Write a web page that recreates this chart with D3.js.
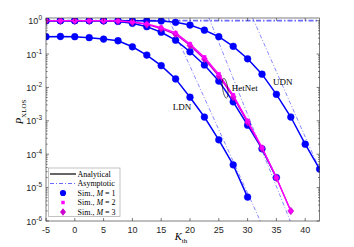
<!DOCTYPE html>
<html><head><meta charset="utf-8">
<script src="https://cdn.jsdelivr.net/npm/d3@7"></script>
<style>body{margin:0;background:#fff}svg{display:block}</style>
</head><body>
<svg width="354" height="247"></svg>
<script>
// threshold values (dB)
const kth = [-5, -2.5, 0, 2.5, 5, 7.5, 10, 12.5, 15, 17.5, 20, 22.5, 25, 27.5, 30, 32.5, 35, 37.5, 40, 42.5];

// simulated / analytical P_XLOS
const ldn   = [0.33, 0.335, 0.33, 0.31, 0.28, 0.25, 0.165, 0.093, 0.045, 0.018, 5.1e-3, 1.3e-3, 2.7e-4, 4.8e-5, 5.2e-6];
const hetM1 = [0.995, 0.995, 0.995, 0.995, 0.985, 0.95, 0.83, 0.66, 0.45, 0.26, 0.117, 0.047, 0.0155, 3.7e-3, 7.4e-4, 1.45e-4, 2.0e-5];
const hetM2 = [0.998, 0.998, 0.998, 0.998, 0.998, 0.98, 0.92, 0.8, 0.62, 0.43, 0.2, 0.08, 0.025, 5.9e-3, 1.0e-3, 1.6e-4, 2.0e-5, 2.0e-6];
const hetM3 = [0.997, 0.997, 0.997, 0.997, 0.996, 0.97, 0.9, 0.77, 0.58, 0.39, 0.18, 0.071, 0.022, 5.2e-3, 9.0e-4, 1.5e-4, 1.95e-5, 2.0e-6];
const udn   = [0.999, 0.999, 0.999, 0.999, 0.999, 0.999, 0.999, 0.995, 0.98, 0.89, 0.74, 0.52, 0.33, 0.17, 0.072, 0.025, 6.2e-3, 1.3e-3, 2.0e-4, 3.6e-5];

// asymptotes as [K, P] end points
const asymFlat = [[-5, 1], [42.5, 1]];
const asymLDN  = [[16.2, 1.2], [32.2, 1e-6]];
const asymHet  = [[23.3, 1.2], [37.4, 1e-6]];
const asymUDN  = [[30.9, 1.18], [42.5, 3.5e-5]];

const xTicks = [-5, 0, 5, 10, 15, 20, 25, 30, 35, 40];
const yExps = [0, -1, -2, -3, -4, -5, -6];

const blue = "#0000ff", mag = "#ff00ff", purp = "#cc00cc", asymCol = "#6a6aff";
const axCol = "#262626";

const svg = d3.select("svg");
const L = 46, R = 319.6, T = 18, B = 221;

const x = d3.scaleLinear().domain([-5, 42.5]).range([L, R]);
const y = d3.scaleLog().domain([1e-6, 1.2]).range([B, T]);

svg.append("defs").append("clipPath").attr("id", "clip")
  .append("rect").attr("x", L).attr("y", T).attr("width", R - L).attr("height", B - T);

const plot = svg.append("g").attr("clip-path", "url(#clip)");

// asymptotic lines
const aline = d3.line().x(d => x(d[0])).y(d => y(d[1]));
[asymLDN, asymHet, asymUDN].forEach(a => {
  plot.append("path").attr("d", aline(a)).attr("fill", "none")
    .attr("stroke", asymCol).attr("stroke-width", 0.8)
    .attr("stroke-dasharray", "4,2,1,2");
});
plot.append("path").attr("d", aline(asymFlat)).attr("fill", "none")
  .attr("stroke", asymCol).attr("stroke-width", 1.6)
  .attr("stroke-dasharray", "5,2,1.5,2");

function series(vals, color, shape, size, lw) {
  const pts = vals.map((v, i) => [kth[i], v]);
  plot.append("path").attr("d", aline(pts)).attr("fill", "none")
    .attr("stroke", color).attr("stroke-width", lw);
  plot.selectAll(null).data(pts).enter().append("path")
    .attr("transform", d => `translate(${x(d[0])},${y(d[1])})`)
    .attr("d", d3.symbol().type(shape).size(size))
    .attr("fill", color).attr("stroke", color).attr("stroke-width", 0.5);
}

const diamond = {draw(ctx, size) { const r = Math.sqrt(size / 2); ctx.moveTo(0, -r); ctx.lineTo(r * 0.8, 0); ctx.lineTo(0, r); ctx.lineTo(-r * 0.8, 0); ctx.closePath(); }};

series(ldn, blue, d3.symbolCircle, 36, 1.5);
series(udn, blue, d3.symbolCircle, 36, 1.5);
series(hetM1, blue, d3.symbolCircle, 36, 1.5);
series(hetM3, purp, diamond, 28, 1.3);
series(hetM2, mag, d3.symbolSquare, 12, 1.3);

// axes box
svg.append("rect").attr("x", L).attr("y", T).attr("width", R - L).attr("height", B - T)
  .attr("fill", "none").attr("stroke", axCol).attr("stroke-width", 0.6);

const tickG = svg.append("g").attr("stroke", axCol).attr("stroke-width", 0.6);
xTicks.forEach(t => {
  tickG.append("line").attr("x1", x(t)).attr("x2", x(t)).attr("y1", B).attr("y2", B - 3);
  tickG.append("line").attr("x1", x(t)).attr("x2", x(t)).attr("y1", T).attr("y2", T + 3);
  svg.append("text").attr("x", x(t)).attr("y", B + 12).attr("text-anchor", "middle")
    .attr("font-family", "Liberation Sans, Arial").attr("font-size", 9).attr("fill", axCol).text(t);
});
for (let e = -6; e <= 0; e++) {
  for (let m = 1; m <= 9; m++) {
    const v = m * Math.pow(10, e);
    if (v > 1.2) continue;
    const len = m === 1 ? 3 : 1.6;
    tickG.append("line").attr("x1", L).attr("x2", L + len).attr("y1", y(v)).attr("y2", y(v));
    tickG.append("line").attr("x1", R).attr("x2", R - len).attr("y1", y(v)).attr("y2", y(v));
  }
}
yExps.forEach(e => {
  const t = svg.append("text").attr("x", 42).attr("y", y(Math.pow(10, e)) + 3.5).attr("text-anchor", "end")
    .attr("font-family", "Liberation Sans, Arial").attr("font-size", 9).attr("fill", axCol);
  t.append("tspan").text("10");
  t.append("tspan").attr("dy", -4).attr("font-size", 6.5).text(e);
});

// axis labels
const yl = svg.append("text").attr("transform", "translate(23,112) rotate(-90)").attr("text-anchor", "middle")
  .attr("font-family", "Liberation Serif, Times New Roman").attr("font-size", 10.5).attr("fill", "#000");
yl.append("tspan").attr("font-style", "italic").text("P");
yl.append("tspan").attr("dy", 2.5).attr("font-size", 7).text("XLOS");

const xl = svg.append("text").attr("x", 181).attr("y", 240).attr("text-anchor", "middle")
  .attr("font-family", "Liberation Serif, Times New Roman").attr("font-size", 10.5).attr("fill", "#000");
xl.append("tspan").attr("font-style", "italic").text("K");
xl.append("tspan").attr("dy", 2.5).attr("font-size", 7).text("th");

// curve annotations
const ann = [["LDN", 18.6, 2.6e-3], ["HetNet", 29.5, 9.6e-3], ["UDN", 36.1, 0.0145]];
ann.forEach(a => {
  svg.append("text").attr("x", x(a[1])).attr("y", y(a[2]) + 3).attr("text-anchor", "middle")
    .attr("font-family", "Liberation Serif, Times New Roman").attr("font-size", 9).attr("fill", "#000").text(a[0]);
});
svg.append("ellipse").attr("cx", x(26.1)).attr("cy", y(0.0095)).attr("rx", 2.6).attr("ry", 10)
  .attr("transform", `rotate(-8,${x(26.1)},${y(0.0095)})`)
  .attr("fill", "none").attr("stroke", "#000").attr("stroke-width", 0.6);

// legend
const lg = svg.append("g");
lg.append("rect").attr("x", 48.5).attr("y", 168).attr("width", 71.5).attr("height", 48.5)
  .attr("fill", "#fff").attr("stroke", "#9a9a9a").attr("stroke-width", 0.6);
const legItems = ["Analytical", "Asymptotic", "Sim., M = 1", "Sim., M = 2", "Sim., M = 3"];
legItems.forEach((name, i) => {
  const yy = 174 + i * 9.5;
  if (i === 0) lg.append("line").attr("x1", 50).attr("x2", 76).attr("y1", yy).attr("y2", yy).attr("stroke", "#000").attr("stroke-width", 1.2);
  if (i === 1) lg.append("line").attr("x1", 50).attr("x2", 76).attr("y1", yy).attr("y2", yy).attr("stroke", asymCol).attr("stroke-width", 1).attr("stroke-dasharray", "4,2,1,2");
  if (i === 2) lg.append("path").attr("transform", `translate(63,${yy})`).attr("d", d3.symbol().type(d3.symbolCircle).size(30)).attr("fill", blue);
  if (i === 3) lg.append("path").attr("transform", `translate(63,${yy})`).attr("d", d3.symbol().type(d3.symbolSquare).size(12)).attr("fill", mag);
  if (i === 4) lg.append("path").attr("transform", `translate(63,${yy})`).attr("d", d3.symbol().type(diamond).size(28)).attr("fill", purp);
  const t = lg.append("text").attr("x", 77.5).attr("y", yy + 2.8)
    .attr("font-family", "Liberation Serif, Times New Roman").attr("font-size", 8).attr("fill", "#000");
  if (i < 2) t.text(name);
  else {
    t.append("tspan").text("Sim., ");
    t.append("tspan").attr("font-style", "italic").text("M");
    t.append("tspan").text(" = " + (i - 1));
  }
});
</script>
</body></html>
